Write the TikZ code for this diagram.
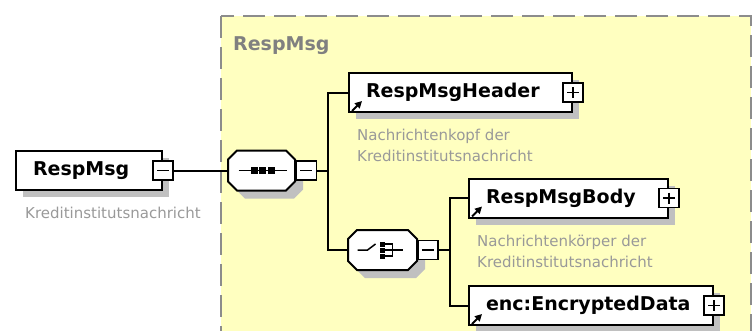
\documentclass[tikz,border=0pt]{standalone}
\usepackage{fontspec}
\setmainfont{DejaVu Sans}
\definecolor{SchemaYellow}{HTML}{FFFFC0}
\definecolor{SchemaFrame}{HTML}{8C8C8C}
\definecolor{SchemaLabel}{HTML}{808080}
\definecolor{SchemaDesc}{HTML}{999999}
\definecolor{SchemaShadow}{HTML}{C0C0C0}
\usetikzlibrary{arrows.meta,shadows}

% octagon outline of a compositor, half width #1, around (0,0)
\newcommand{\octpath}[1]{(-#1+9,-20) -- (#1-9,-20) -- (#1,-11) -- (#1,11)
  -- (#1-9,20) -- (-#1+9,20) -- (-#1,11) -- (-#1,-11) -- cycle}

\tikzset{
  boxshadow/.style={drop shadow={shadow xshift=7pt,shadow yshift=-7pt,fill=SchemaShadow,opacity=1}},
  elembox/.style={draw, fill=white, line width=2pt, minimum height=39pt,
    inner xsep=17pt, inner ysep=0pt, text width=#1, align=left, anchor=west,
    font=\fontsize{19}{22}\selectfont\bfseries, boxshadow},
  compositor/.style={rectangle, minimum width=#1, minimum height=40pt, inner sep=0pt},
  btn/.style={draw, fill=white, line width=1.5pt, minimum width=20pt,
    minimum height=19pt, inner sep=0pt},
  minusbtn/.style={btn, path picture={
    \draw[line width=1.5pt] ([xshift=4pt]path picture bounding box.west) -- ([xshift=-4pt]path picture bounding box.east);}},
  plusbtn/.style={btn, path picture={
    \draw[line width=1.5pt] ([xshift=4pt]path picture bounding box.west) -- ([xshift=-4pt]path picture bounding box.east);
    \draw[line width=1.5pt] ([yshift=-4pt]path picture bounding box.north) -- ([yshift=4pt]path picture bounding box.south);}},
  desc/.style={font=\fontsize{15}{21}\selectfont, text=SchemaDesc, align=left,
    anchor=north west, inner sep=0pt},
  wire/.style={line width=2pt},
  refarrow/.style={-{Triangle[length=7pt,width=7pt]}, line width=2pt}
}

\begin{document}
\begin{tikzpicture}[x=1pt,y=-1pt]
  \useasboundingbox (0,0) rectangle (754,330);
  \clip (0,0) rectangle (754,330);

  % group frame
  \draw[SchemaFrame, line width=1.8pt, dash pattern=on 22pt off 9pt, fill=SchemaYellow]
    (221,16) rectangle (751,345);
  \node[font=\fontsize{19}{22}\selectfont\bfseries, text=SchemaLabel, anchor=north west,
    inner sep=0pt] (grouplabel) at (233,36) {RespMsg};

  % root element
  \node[elembox=112pt] (resp) at (15,170.5) {RespMsg};
  \node[minusbtn] (respbtn) at (resp.east) {};
  \node[desc] (respdesc) at ([xshift=10pt,yshift=-16pt]resp.south west) {Kreditinstitutsnachricht};

  % sequence
  \node[compositor=67pt] (seq) at (261.5,170.5) {};
  \begin{scope}[shift={(seq.center)}, line width=1.5pt]
    \fill[SchemaShadow, shift={(8,8)}] \octpath{33.5};
    \draw[fill=white, line width=2pt] \octpath{33.5};
    \draw (-23,0) -- (25,0);
    \foreach \dx in {-7.5,1,9.5}
      \fill (\dx-3.5,-3.5) rectangle (\dx+3.5,3.5);
  \end{scope}
  \node[minusbtn, anchor=west, xshift=0.5pt] (seqbtn) at (seq.east) {};
  \coordinate (seqfork) at ([xshift=11pt]seqbtn.east);

  % header
  \node[elembox=189pt] (hdr) at (348,92.5) {RespMsgHeader};
  \node[plusbtn] (hdrbtn) at (hdr.east) {};
  \node[desc] (hdrdesc) at ([xshift=9pt,yshift=-16pt]hdr.south west)
    {Nachrichtenkopf der\\Kreditinstitutsnachricht};

  % choice
  \node[compositor=69pt] (choice) at (382.5,250) {};
  \begin{scope}[shift={(choice.center)}, line width=1.5pt]
    \fill[SchemaShadow, shift={(8,8)}] \octpath{34.5};
    \draw[fill=white, line width=2pt] \octpath{34.5};
    \draw (-25,0) -- (-15,0) -- (-7,-6);
    \foreach \dy in {-6,0,6} {
      \fill (-3,\dy-2.5) rectangle (2,\dy+2.5);
      \draw (2,\dy) -- (10,\dy);
    }
    \draw (10,-6.75) -- (10,6.75);
    \draw (10,0) -- (20,0);
  \end{scope}
  \node[minusbtn, anchor=west] (choicebtn) at (choice.east) {};
  \coordinate (choicefork) at ([xshift=11pt]choicebtn.east);

  % body and encrypted data
  \node[elembox=165pt] (body) at (468,198) {RespMsgBody};
  \node[plusbtn] (bodybtn) at (body.east) {};
  \node[desc] (bodydesc) at ([xshift=9pt,yshift=-16pt]body.south west)
    {Nachrichtenkörper der\\Kreditinstitutsnachricht};
  \node[elembox=210pt] (encdata) at (468,305.5) {enc:EncryptedData};
  \node[plusbtn] (encbtn) at (encdata.east) {};

  % reference markers
  \foreach \elem in {hdr,body,encdata}
    \draw[refarrow] ([xshift=4pt,yshift=2pt]\elem.south west) -- ++(10,-10);

  % connectors
  \draw[wire] (respbtn.east) -- (seq.west);
  \draw[wire] (seqbtn.east) -- (seqfork);
  \draw[wire] (seqfork) |- (hdr.west);
  \draw[wire] (seqfork) |- (choice.west);
  \draw[wire] (choicebtn.east) -- (choicefork);
  \draw[wire] (choicefork) |- (body.west);
  \draw[wire] (choicefork) |- (encdata.west);
\end{tikzpicture}
\end{document}
